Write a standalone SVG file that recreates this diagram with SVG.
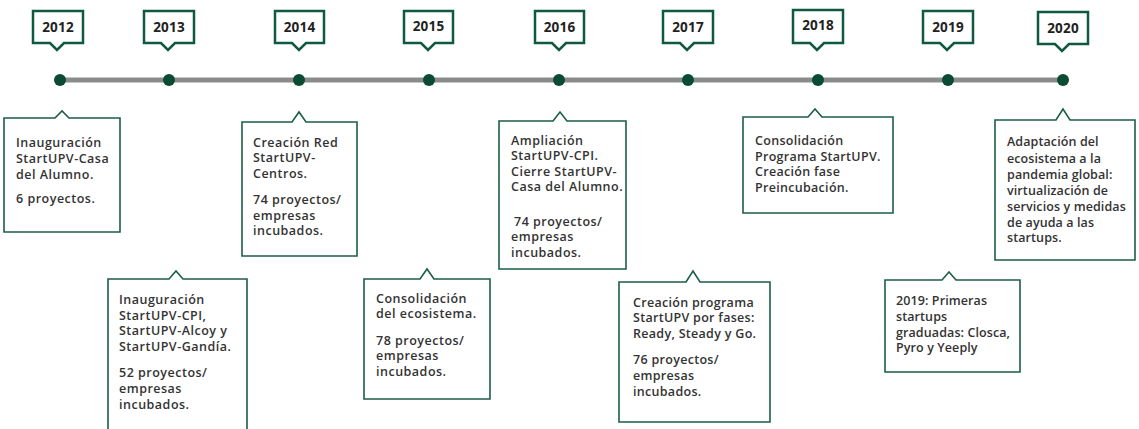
<svg xmlns="http://www.w3.org/2000/svg" width="1139" height="429" viewBox="0 0 1139 429">
<style>
.yb{fill:#fff;stroke:#0f5a3e;stroke-width:2.5}
.db{fill:#fff;stroke:#1b5e45;stroke-width:1.6}
.yt{font-family:"Open Sans","Liberation Sans",sans-serif;font-weight:700;font-size:13.5px;fill:#222;text-anchor:middle;letter-spacing:0.2px}
.dt{font-family:"Open Sans","Liberation Sans",sans-serif;font-weight:600;font-size:12.5px;fill:#333;letter-spacing:0.5px}
.dot{fill:#0b4a33}
</style>
<rect width="1139" height="429" fill="#fff"/>
<g id="connectors">
<line x1="60" y1="80" x2="1063" y2="80" stroke="#8a8c8b" stroke-width="5"/>
</g>
<g id="dots">
<circle class="dot" cx="60" cy="80" r="6"/>
<circle class="dot" cx="169" cy="80" r="6"/>
<circle class="dot" cx="299" cy="80" r="6"/>
<circle class="dot" cx="429" cy="80" r="6"/>
<circle class="dot" cx="559" cy="80" r="6"/>
<circle class="dot" cx="688" cy="80" r="6"/>
<circle class="dot" cx="818" cy="80" r="6"/>
<circle class="dot" cx="948" cy="80" r="6"/>
<circle class="dot" cx="1063" cy="80" r="6"/>
</g>
<g id="y2012"><path class="yb" d="M33,11H83V43H64L57,50L50,43H33Z"/><text class="yt" x="58" y="32">2012</text></g>
<g id="y2013"><path class="yb" d="M144,11H194V43H175L168,50L161,43H144Z"/><text class="yt" x="169" y="32">2013</text></g>
<g id="y2014"><path class="yb" d="M275,11H324V43H306L299,50L292,43H275Z"/><text class="yt" x="299.5" y="32">2014</text></g>
<g id="y2015"><path class="yb" d="M404,11H453V43H435L428,50L421,43H404Z"/><text class="yt" x="428.5" y="31">2015</text></g>
<g id="y2016"><path class="yb" d="M535,11H584V43H566L559,50L552,43H535Z"/><text class="yt" x="559.5" y="32">2016</text></g>
<g id="y2017"><path class="yb" d="M663,11H713V43H694L687,50L680,43H663Z"/><text class="yt" x="688" y="32">2017</text></g>
<g id="y2018"><path class="yb" d="M793,10H843V43H824L817,50L810,43H793Z"/><text class="yt" x="818" y="30">2018</text></g>
<g id="y2019"><path class="yb" d="M923,11H973V43H954L947,50L940,43H923Z"/><text class="yt" x="948" y="32">2019</text></g>
<g id="y2020"><path class="yb" d="M1038,12H1088V44H1069L1062,51L1055,44H1038Z"/><text class="yt" x="1063" y="33">2020</text></g>

<g id="d2012"><path class="db" d="M4,118H55L62,111L69,118H120V232H4Z"/>
<text class="dt"><tspan x="16" y="147">Inauguración</tspan><tspan x="16" y="163">StartUPV-Casa</tspan><tspan x="16" y="179">del Alumno.</tspan><tspan x="16" y="203">6 proyectos.</tspan></text></g>
<g id="d2013"><path class="db" d="M108,279H169L176,271L183,279H247V440H108Z"/>
<text class="dt"><tspan x="119" y="304">Inauguración</tspan><tspan x="119" y="320">StartUPV-CPI,</tspan><tspan x="119" y="335">StartUPV-Alcoy y</tspan><tspan x="119" y="351">StartUPV-Gandía.</tspan><tspan x="119" y="377">52 proyectos/</tspan><tspan x="119" y="393">empresas</tspan><tspan x="119" y="409">incubados.</tspan></text></g>
<g id="d2014"><path class="db" d="M242,122H292L299,112L306,122H357V256H242Z"/>
<text class="dt"><tspan x="253" y="147">Creación Red</tspan><tspan x="253" y="162">StartUPV-</tspan><tspan x="253" y="178">Centros.</tspan><tspan x="253" y="204">74 proyectos/</tspan><tspan x="253" y="220">empresas</tspan><tspan x="253" y="235">incubados.</tspan></text></g>
<g id="d2015"><path class="db" d="M364,279H420L427,269L434,279H490V399H364Z"/>
<text class="dt"><tspan x="376" y="303">Consolidación</tspan><tspan x="376" y="318">del ecosistema.</tspan><tspan x="376" y="345">78 proyectos/</tspan><tspan x="376" y="360">empresas</tspan><tspan x="376" y="376">incubados.</tspan></text></g>
<g id="d2016"><path class="db" d="M499,121H553L560,112L567,121H626V269H499Z"/>
<text class="dt"><tspan x="511" y="145">Ampliación</tspan><tspan x="511" y="160">StartUPV-CPI.</tspan><tspan x="511" y="176">Cierre StartUPV-</tspan><tspan x="511" y="191">Casa del Alumno.</tspan><tspan x="514" y="226">74 proyectos/</tspan><tspan x="511" y="241">empresas</tspan><tspan x="511" y="257">incubados.</tspan></text></g>
<g id="d2017"><path class="db" d="M619,282H686L693,271L700,282H770V422H619Z"/>
<text class="dt" style="letter-spacing:0.3px"><tspan x="633" y="307">Creación programa</tspan><tspan x="633" y="322">StartUPV por fases:</tspan><tspan x="633" y="338">Ready, Steady y Go.</tspan><tspan x="633" y="364">76 proyectos/</tspan><tspan x="633" y="380">empresas</tspan><tspan x="633" y="396">incubados.</tspan></text></g>
<g id="d2018"><path class="db" d="M743,117H808L815,109L822,117H893V213H743Z"/>
<text class="dt" style="letter-spacing:0.3px"><tspan x="755" y="145">Consolidación</tspan><tspan x="755" y="161">Programa StartUPV.</tspan><tspan x="755" y="176">Creación fase</tspan><tspan x="755" y="192">Preincubación.</tspan></text></g>
<g id="d2019"><path class="db" d="M885,280H942L949,272L956,280H1020V372H885Z"/>
<text class="dt" style="letter-spacing:0.1px"><tspan x="896" y="305">2019: Primeras</tspan><tspan x="896" y="321">startups</tspan><tspan x="896" y="337">graduadas: Closca,</tspan><tspan x="896" y="352">Pyro y Yeeply</tspan></text></g>
<g id="d2020"><path class="db" d="M995,120H1056L1063,109L1070,120H1135V260H995Z"/>
<text class="dt" style="letter-spacing:0.1px"><tspan x="1007" y="146">Adaptación del</tspan><tspan x="1007" y="163">ecosistema a la</tspan><tspan x="1007" y="179">pandemia global:</tspan><tspan x="1007" y="195">virtualización de</tspan><tspan x="1007" y="211">servicios y medidas</tspan><tspan x="1007" y="227">de ayuda a las</tspan><tspan x="1007" y="242">startups.</tspan></text></g>
</svg>
